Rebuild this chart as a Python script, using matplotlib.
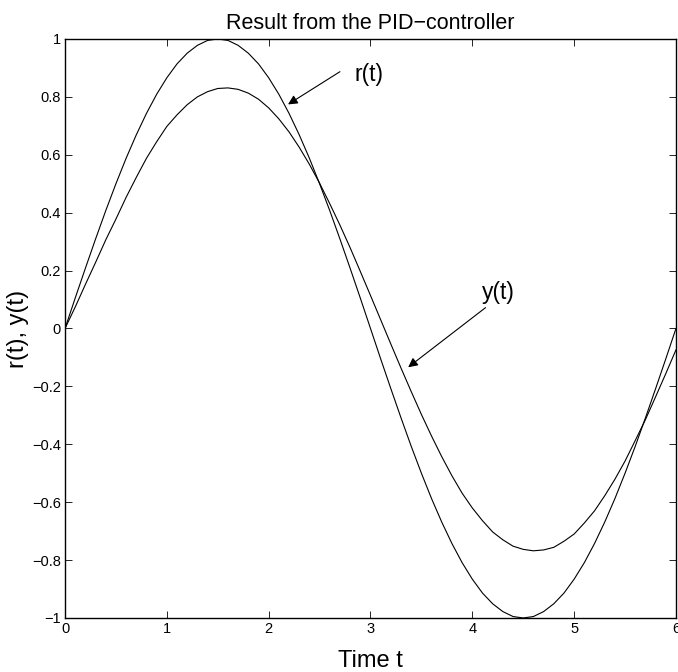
"""
Reference and output of the PID-controlled loop, MATLAB-style line plot.
"""
import matplotlib
matplotlib.use('Agg')
import matplotlib.pyplot as plt
import matplotlib.ticker as mticker

# ---------------------------------------------------------------------------
# Data
# ---------------------------------------------------------------------------
t = [0.0, 0.1, 0.2, 0.3, 0.4, 0.5, 0.6, 0.7, 0.8, 0.9,
     1.0, 1.1, 1.2, 1.3, 1.4, 1.5, 1.6, 1.7, 1.8, 1.9,
     2.0, 2.1, 2.2, 2.3, 2.4, 2.5, 2.6, 2.7, 2.8, 2.9,
     3.0, 3.1, 3.2, 3.3, 3.4, 3.5, 3.6, 3.7, 3.8, 3.9,
     4.0, 4.1, 4.2, 4.3, 4.4, 4.5, 4.6, 4.7, 4.8, 4.9,
     5.0, 5.1, 5.2, 5.3, 5.4, 5.5, 5.6, 5.7, 5.8, 5.9, 6.0]

r_t = [0.000, 0.105, 0.208, 0.309, 0.407, 0.500, 0.588, 0.669, 0.743, 0.809,
       0.866, 0.914, 0.951, 0.978, 0.995, 1.000, 0.995, 0.978, 0.951, 0.914,
       0.866, 0.809, 0.743, 0.669, 0.588, 0.500, 0.407, 0.309, 0.208, 0.105,
       0.000, -0.105, -0.208, -0.309, -0.407, -0.500, -0.588, -0.669, -0.743, -0.809,
       -0.866, -0.914, -0.951, -0.978, -0.995, -1.000, -0.995, -0.978, -0.951, -0.914,
       -0.866, -0.809, -0.743, -0.669, -0.588, -0.500, -0.407, -0.309, -0.208, -0.105, 0.000]

y_t = [0.000, 0.074, 0.152, 0.228, 0.306, 0.378, 0.453, 0.522, 0.588, 0.645,
       0.698, 0.738, 0.773, 0.800, 0.818, 0.829, 0.831, 0.826, 0.813, 0.792,
       0.762, 0.724, 0.679, 0.626, 0.567, 0.502, 0.431, 0.357, 0.279, 0.197,
       0.114, 0.030, -0.054, -0.137, -0.218, -0.297, -0.372, -0.443, -0.509, -0.569,
       -0.620, -0.664, -0.703, -0.730, -0.752, -0.763, -0.768, -0.765, -0.756, -0.735,
       -0.710, -0.672, -0.630, -0.578, -0.521, -0.458, -0.387, -0.315, -0.236, -0.156, -0.074]

x_ticks = [0, 1, 2, 3, 4, 5, 6]
y_ticks = [-1, -0.8, -0.6, -0.4, -0.2, 0, 0.2, 0.4, 0.6, 0.8, 1]

# annotation anchors: (label, text pos, arrow tail, arrow tip)
annotations = [
    ('r(t)', (2.84, 0.876), (2.70, 0.887), (2.19, 0.774)),
    ('y(t)', (4.09, 0.124), (4.13, 0.072), (3.37, -0.134)),
]

# ---------------------------------------------------------------------------
# Figure
# ---------------------------------------------------------------------------
plt.rcParams['font.family'] = ['Liberation Sans', 'DejaVu Sans']

fig = plt.figure(figsize=(6.78, 6.72), dpi=100)
ax = fig.add_axes([0.0959, 0.0804, 0.9011, 0.8616])

ax.plot(t, r_t, color='black', linewidth=0.8)
ax.plot(t, y_t, color='black', linewidth=0.8)

for label, (tx, ty), tail, tip in annotations:
    ax.annotate('', xy=tip, xytext=tail,
                arrowprops=dict(arrowstyle='-|>', color='black', lw=0.8,
                                mutation_scale=14, shrinkA=0, shrinkB=0))
    ax.text(tx, ty, label, fontsize=16.5, ha='left', va='center')

ax.set_xlim(0, 6)
ax.set_ylim(-1, 1)
ax.set_xticks(x_ticks)
ax.set_yticks(y_ticks)
fmt = mticker.FuncFormatter(lambda v, _: ('%g' % v).replace('-', '\u2212'))
ax.xaxis.set_major_formatter(fmt)
ax.yaxis.set_major_formatter(fmt)
ax.tick_params(direction='in', top=True, right=True, length=5, width=0.6,
               labelsize=10.5, pad=3)
for s in ax.spines.values():
    s.set_linewidth(1.0)

ax.set_title('Result from the PID\u2212controller', fontsize=15.5, pad=7)
ax.set_xlabel('Time t', fontsize=17, labelpad=10)
ax.set_ylabel('r(t), y(t)', fontsize=17, labelpad=2)

fig.savefig('out.png', dpi=100)
